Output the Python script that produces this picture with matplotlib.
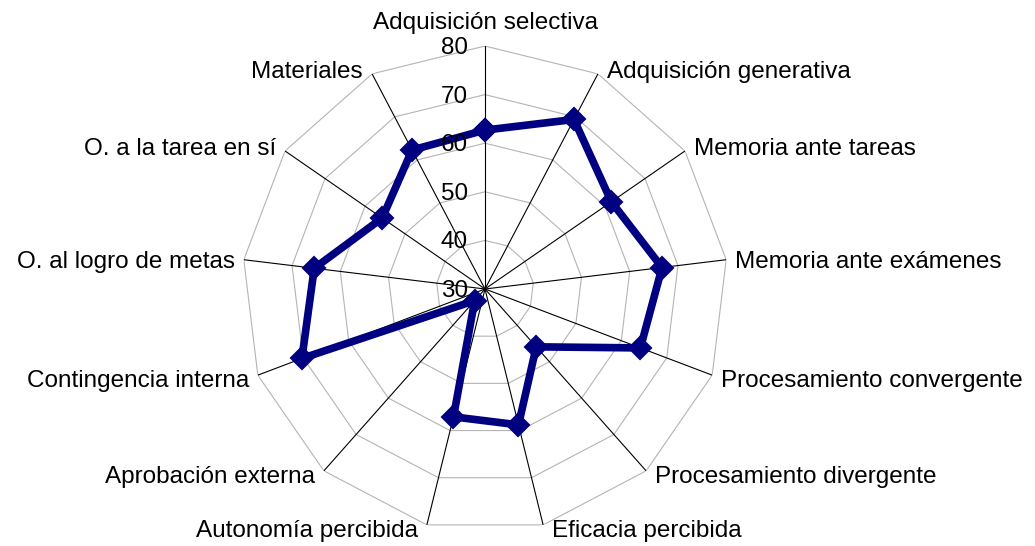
import numpy as np
import matplotlib.pyplot as plt

plt.rcParams["font.family"] = ["Liberation Sans", "DejaVu Sans"]

categories = [
    "Adquisición selectiva",
    "Adquisición generativa",
    "Memoria ante tareas",
    "Memoria ante exámenes",
    "Procesamiento convergente",
    "Procesamiento divergente",
    "Eficacia percibida",
    "Autonomía percibida",
    "Aprobación externa",
    "Contingencia interna",
    "O. al logro de metas",
    "O. a la tarea en sí",
    "Materiales",
]
scores = [62.7, 69.4, 61.6, 66.7, 64.2, 45.9, 58.8, 57.1, 33.2, 70.3, 65.4, 55.7, 62.3]
ring_values = [40, 50, 60, 70, 80]
tick_values = [30, 40, 50, 60, 70, 80]

n = len(categories)
angles = np.linspace(0, 2 * np.pi, n, endpoint=False)
closed = np.append(angles, angles[0])

fig = plt.figure(figsize=(10.35, 5.46), dpi=100)
ax = fig.add_axes([0.2338, 0.0257, 0.4696, 0.890], projection="polar")
ax.set_theta_zero_location("N")
ax.set_theta_direction(-1)
ax.set_ylim(30, 80)
ax.grid(False)
ax.set_xticks([])
ax.set_yticks([])
ax.spines["polar"].set_visible(False)

# polygon grid rings
for v in ring_values:
    ax.plot(closed, [v] * len(closed), color="#b4b4b4", lw=0.8, zorder=1)

# spokes
for a in angles:
    ax.plot([a, a], [30, 80], color="black", lw=0.8, zorder=2)

ax.plot(closed, scores + scores[:1], color="#000080", lw=5.5,
        marker="D", ms=11, mew=1.5, mec="#000080", zorder=3,
        solid_joinstyle="miter")

# category labels outside the spoke tips
for a, name in zip(angles, categories):
    s, c = np.sin(a), np.cos(a)
    if abs(s) < 0.1:
        ha = "center"
        va = "bottom" if c > 0 else "top"
        off = (0, 12 * np.sign(c))
    else:
        ha = "left" if s > 0 else "right"
        va = "center"
        dy = 2 if c > 0.3 else (-2 if c > -0.2 else -6)
        off = (9 * np.sign(s), dy)
    ax.annotate(name, xy=(a, 80), xytext=off, textcoords="offset pixels",
                ha=ha, va=va, fontsize=17.5, annotation_clip=False)

# radial scale labels along the top spoke
for v in tick_values:
    ax.annotate(str(v), xy=(0, v), xytext=(-17, -2), textcoords="offset pixels",
                ha="right", va="center", fontsize=17.5, zorder=4)

fig.savefig("out.png", dpi=100)
